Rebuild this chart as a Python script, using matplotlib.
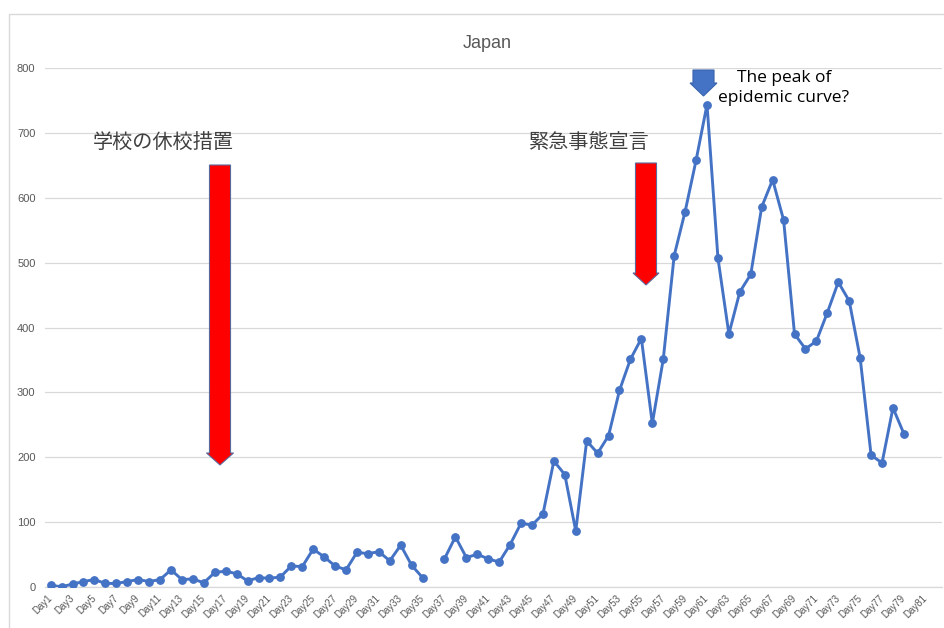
import numpy as np
import matplotlib
matplotlib.use("Agg")
import matplotlib.pyplot as plt
from matplotlib.patches import FancyArrow, Rectangle

plt.rcParams['font.family'] = ['Noto Sans CJK JP', 'DejaVu Sans']

# ---- data ----
categories = [f"Day{i}" for i in range(1, 83)]
days = list(range(1, 80))
cases = [2, 0, 4, 8, 11, 5, 5, 8, 11, 8,
         11, 26, 11, 12, 6, 22, 24, 20, 9, 14,
         13, 15, 32, 31, 58, 46, 32, 26, 53, 51,
         54, 40, 64, 33, 14, np.nan, 43, 77, 45, 50,
         43, 38, 65, 98, 95, 112, 194, 173, 86, 225,
         206, 233, 303, 351, 383, 252, 351, 511, 579, 658,
         744, 507, 390, 455, 482, 586, 628, 566, 390, 367,
         379, 423, 470, 441, 353, 203, 191, 276, 236]
tick_labels = [c if (i % 2 == 0) else "" for i, c in enumerate(categories)]
title = "Japan"
note_school = "学校の休校措置"
note_emergency = "緊急事態宣言"
note_peak = "The peak of\nepidemic curve?"

W, H = 944, 628
fig = plt.figure(figsize=(W / 100, H / 100), dpi=100)

def fx(x):
    return x / W

def fy(y):
    return 1 - y / H

# chart border (only left and top edges are visible in the frame)
fig.patches.append(Rectangle((fx(9), fy(700)), fx(1100) - fx(9), fy(14) - fy(700),
                             transform=fig.transFigure, fill=False,
                             edgecolor="#D9D9D9", linewidth=1.0, clip_on=False))

left, right, top, bottom = 45.2, 942.2, 68.3, 586.7
ax = fig.add_axes([fx(left), fy(bottom), fx(right) - fx(left), fy(top) - fy(bottom)])

ax.plot(days, cases, color="#4472C4", linewidth=2.1, marker="o",
        markersize=5.3, markerfacecolor="#4472C4", markeredgecolor="#4472C4",
        solid_joinstyle="round", zorder=3)

ax.set_xlim(0.5, len(categories) + 0.5)
ax.set_ylim(0, 800)
ax.set_yticks(range(0, 801, 100))
ax.set_xticks(range(1, len(categories) + 1))
ax.set_xticklabels(tick_labels, rotation=45, ha="right", va="center",
                   rotation_mode="anchor", fontsize=7, color="#595959",
                   family=["Liberation Sans", "DejaVu Sans"])
for lab in ax.get_yticklabels():
    lab.set_fontsize(8)
    lab.set_color("#595959")
    lab.set_family(["Liberation Sans", "DejaVu Sans"])
ax.tick_params(axis="both", length=0)
ax.tick_params(axis="y", pad=7)
ax.tick_params(axis="x", pad=7)
ax.grid(axis="y", color="#D9D9D9", linewidth=0.9)
ax.set_axisbelow(True)
for s in ["left", "right", "top"]:
    ax.spines[s].set_visible(False)
ax.spines["bottom"].set_color("#D9D9D9")
ax.spines["bottom"].set_linewidth(0.9)

# title
fig.text(fx(487), fy(44), title, ha="center", va="center", fontsize=13,
         color="#595959", family=["Liberation Sans", "DejaVu Sans"])

# annotations
fig.text(fx(163), fy(143), note_school, ha="center", va="center",
         fontsize=14.5, color="#404040")
fig.text(fx(588), fy(143), note_emergency, ha="center", va="center",
         fontsize=14.5, color="#404040")
fig.text(fx(784), fy(88), note_peak, ha="center", va="center",
         fontsize=12.5, color="#000000", linespacing=1.35,
         family=["Open Sans", "DejaVu Sans"])

def down_arrow(cx, ytop, ytip, shaft, head_w, head_l, face, edge):
    length = fy(ytip) - fy(ytop)
    a = FancyArrow(fx(cx), fy(ytop), 0, length, width=shaft / H,
                   head_width=head_w / W, head_length=head_l / H,
                   length_includes_head=True, transform=fig.transFigure,
                   facecolor=face, edgecolor=edge, linewidth=0.8, zorder=5)
    fig.patches.append(a)

down_arrow(220, 165, 465, 14, 27, 12, "#FF0000", "#5B6A9C")
down_arrow(646, 163, 285, 14, 26, 12, "#FF0000", "#5B6A9C")
down_arrow(703.5, 70, 96, 14, 27, 13, "#4472C4", "#3A64AE")

fig.savefig("out.png", dpi=100)
